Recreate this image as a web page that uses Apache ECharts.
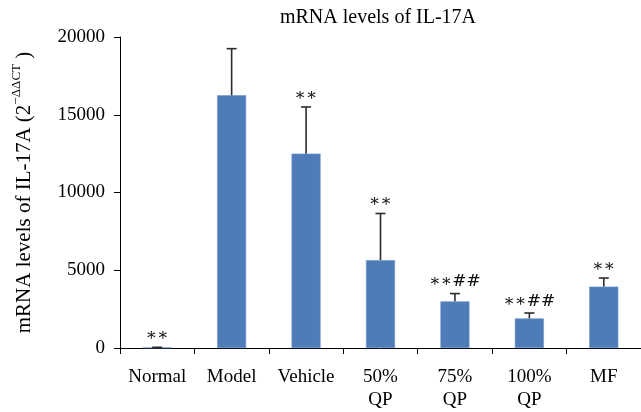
<!DOCTYPE html>
<html>
<head>
<meta charset="utf-8">
<script src="https://cdn.jsdelivr.net/npm/echarts@6/dist/echarts.min.js"></script>
<style>
  html, body { margin: 0; padding: 0; background: #fff; }
  #chart { width: 641px; height: 412px; }
</style>
</head>
<body>
<div id="chart"></div>
<script>
// Treatment groups along the x axis
const categories = ['Normal', 'Model', 'Vehicle', '50%\nQP', '75%\nQP', '100%\nQP', 'MF'];
// Mean relative expression (2^-ΔΔCT)
const means = [30, 16250, 12500, 5650, 3000, 1900, 3950];
// Upper error (SD) for each group
const errors = [15, 3000, 3000, 3000, 500, 350, 550];
// Significance marks drawn above each error bar
const marks = ['**', '', '**', '**', '**##', '**##', '**'];
// Y axis tick range
const yMin = 0, yMax = 20000, yStep = 5000;

const FONT = '"Liberation Serif", "DejaVu Serif", serif';
const chart = echarts.init(document.getElementById('chart'), null, { renderer: 'canvas' });

const errData = means.map((m, i) => [i, m, m + errors[i], marks[i]]);

chart.setOption({
  animation: false,
  backgroundColor: '#fff',
  title: {
    text: 'mRNA levels of IL-17A',
    left: 373, top: 3, textAlign: 'center',
    textStyle: { fontFamily: FONT, fontSize: 20, fontWeight: 'normal', color: '#000' }
  },
  grid: { left: 120, right: 0, top: 37, bottom: 61, containLabel: false },
  xAxis: {
    type: 'category',
    data: categories,
    boundaryGap: true,
    axisLine: { lineStyle: { color: '#000', width: 1 } },
    axisTick: { show: true, length: 6, lineStyle: { color: '#000' } },
    axisLabel: {
      color: '#000', fontFamily: FONT, fontSize: 19, margin: 18, lineHeight: 23, interval: 0
    }
  },
  yAxis: {
    type: 'value',
    min: yMin, max: yMax, interval: yStep,
    splitLine: { show: false },
    axisLine: { show: true, lineStyle: { color: '#000', width: 1 } },
    axisTick: { show: true, length: 6, lineStyle: { color: '#000' } },
    axisLabel: {
      color: '#000', fontFamily: FONT, fontSize: 19, margin: 15,
      formatter: function (v) { return String(v); }
    },
    name: '{a|mRNA levels of IL-17A (2}{s|−ΔΔCT}{a| )}',
    nameLocation: 'middle',
    nameGap: 85,
    nameRotate: 90,
    nameTextStyle: {
      color: '#000',
      rich: {
        a: { fontFamily: FONT, fontSize: 21, color: '#000', lineHeight: 25, verticalAlign: 'bottom' },
        s: { fontFamily: FONT, fontSize: 13, color: '#000', lineHeight: 25, verticalAlign: 'top' }
      }
    }
  },
  series: [
    {
      type: 'bar',
      data: means,
      barWidth: '39%',
      itemStyle: { color: '#4E7CB8', borderColor: '#6A93C8', borderWidth: 0.6 },
      z: 2
    },
    {
      type: 'custom',
      data: errData,
      z: 3,
      renderItem: function (params, api) {
        const idx = api.value(0);
        const top = api.coord([idx, api.value(1)]);
        const hi = api.coord([idx, api.value(2)]);
        const mark = errData[params.dataIndex][3];
        const half = 5;
        const style = { stroke: '#2b2b2b', lineWidth: 1.6 };
        const children = [
          { type: 'line', shape: { x1: hi[0], y1: top[1], x2: hi[0], y2: hi[1] }, style: style },
          { type: 'line', shape: { x1: hi[0] - half, y1: hi[1], x2: hi[0] + half, y2: hi[1] }, style: style }
        ];
        if (mark) {
          children.push({
            type: 'text',
            style: {
              text: mark.replace(/\*/g, '∗'),
              x: hi[0], y: hi[1] - 3,
              align: 'center', verticalAlign: 'bottom',
              fontFamily: '"DejaVu Serif", serif', fontSize: 17, fill: '#111'
            }
          });
        }
        return { type: 'group', children: children };
      }
    }
  ]
});
</script>
</body>
</html>
